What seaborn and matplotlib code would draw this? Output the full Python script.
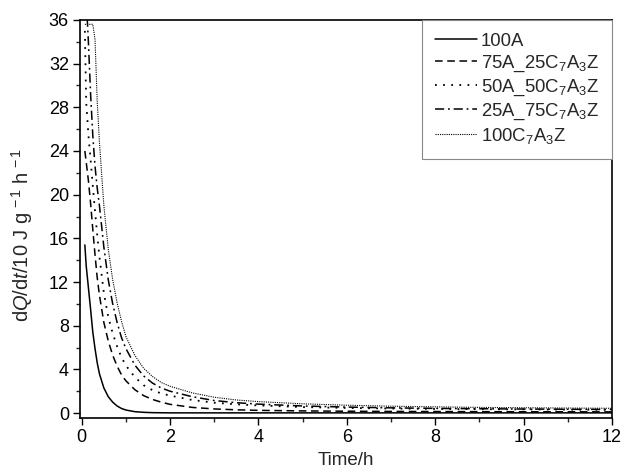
import numpy as np
import pandas as pd
import matplotlib
matplotlib.use("Agg")
import matplotlib.pyplot as plt
import seaborn as sns

# Time axis (h)
time_h = [0.07, 0.1, 0.15, 0.2, 0.25, 0.3, 0.35, 0.4, 0.5, 0.6, 0.7, 0.8, 0.9, 1.0,
          1.2, 1.4, 1.6, 1.8, 2.0, 2.5, 3.0, 3.5, 4.0, 5.0, 6.0, 7.0, 8.0, 9.0,
          10.0, 11.0, 12.0]

s_100A = [15.4, 13.5, 11.5, 9.5, 7.4, 5.9, 4.6, 3.6, 2.3, 1.5, 1.0, 0.65, 0.42, 0.28,
          0.13, 0.07, 0.04, 0.03, 0.02, 0.02, 0.02, 0.02, 0.02, 0.02, 0.02, 0.02, 0.02,
          0.02, 0.02, 0.02, 0.02]
s_75A = [24.0, 23.0, 21.3, 19.2, 16.8, 14.5, 12.4, 10.8, 8.3, 6.6, 5.3, 4.3, 3.5, 2.95,
         2.15, 1.6, 1.25, 1.0, 0.8, 0.52, 0.38, 0.3, 0.25, 0.2, 0.17, 0.15, 0.14,
         0.13, 0.12, 0.12, 0.11]
s_50A = [35.0, 28.5, 25.5, 23.2, 20.8, 18.5, 16.3, 14.3, 11.0, 8.8, 7.3, 6.1, 5.1, 4.35,
         3.3, 2.55, 2.1, 1.8, 1.6, 1.2, 0.95, 0.8, 0.7, 0.55, 0.47, 0.42, 0.38,
         0.36, 0.34, 0.32, 0.3]
s_25A = [40.0, 38.0, 34.0, 29.2, 25.4, 22.6, 20.6, 19.0, 15.2, 12.2, 10.0, 8.3, 6.9, 5.9,
         4.4, 3.4, 2.75, 2.3, 2.0, 1.5, 1.15, 0.95, 0.82, 0.65, 0.55, 0.48, 0.43,
         0.4, 0.37, 0.35, 0.33]
s_100C = [35.6, 35.6, 35.6, 35.6, 35.6, 34.2, 28.5, 24.8, 19.0, 15.0, 12.2, 10.1, 8.4, 7.0,
          5.3, 4.1, 3.35, 2.8, 2.45, 1.85, 1.45, 1.2, 1.05, 0.85, 0.72, 0.63, 0.57,
          0.52, 0.49, 0.46, 0.44]

labels = ["100A", "75A_25C$_7$A$_3$Z", "50A_50C$_7$A$_3$Z",
          "25A_75C$_7$A$_3$Z", "100C$_7$A$_3$Z"]
series = [s_100A, s_75A, s_50A, s_25A, s_100C]

x_ticks = [0, 2, 4, 6, 8, 10, 12]
y_ticks = [0, 4, 8, 12, 16, 20, 24, 28, 32, 36]

sns.set_style("ticks")
plt.rcParams['font.family'] = ['Liberation Sans', 'DejaVu Sans']
plt.rcParams['mathtext.fontset'] = 'custom'
plt.rcParams['mathtext.rm'] = 'Liberation Sans'
plt.rcParams['mathtext.it'] = 'Liberation Sans:italic'
plt.rcParams['mathtext.bf'] = 'Liberation Sans:bold'

fig = plt.figure(figsize=(6.25, 4.75), dpi=100)
ax = fig.add_axes([0.128, 0.12, 0.851, 0.838])

styles = [
    dict(linestyle='-', linewidth=1.1),
    dict(linestyle=(0, (5, 3)), linewidth=1.1),
    dict(linestyle=(0, (1, 3.5)), linewidth=1.3),
    dict(linestyle=(0, (6, 2.5, 1.2, 2.5)), linewidth=1.1),
    dict(linestyle=(0, (1, 1)), linewidth=0.8),
]

for lab, vals, st in zip(labels, series, styles):
    df = pd.DataFrame({"t": time_h, "v": vals})
    sns.lineplot(data=df, x="t", y="v", ax=ax, color="black", label=lab,
                 linestyle=st['linestyle'], linewidth=st['linewidth'])

ax.set_xlim(-0.04, 12.0)
ax.set_ylim(-0.45, 36)
ax.set_xticks(x_ticks)
ax.set_yticks(y_ticks)
ax.set_xticks(np.arange(1, 12, 2), minor=True)
ax.set_yticks(np.arange(2, 36, 4), minor=True)
ax.tick_params(axis='both', which='major', direction='out', length=5, width=1,
               labelsize=13, colors='black', pad=3)
ax.tick_params(axis='both', which='minor', direction='out', length=3, width=1)
for sp in ax.spines.values():
    sp.set_visible(True)
    sp.set_linewidth(1.2)
    sp.set_color('black')

ax.set_xlabel("Time/h", fontsize=13.5, labelpad=4)
ax.set_ylabel(r"d$Q$/d$t$/10 J g$^{\,-1}$ h$^{\,-1}$", fontsize=14.5, labelpad=4)
ax.yaxis.set_label_coords(-0.085, 0.46)

leg = ax.legend(loc='upper right', fontsize=13.3, handlelength=2.3, frameon=True,
                fancybox=False, edgecolor='#888888', framealpha=1,
                borderpad=0.7, labelspacing=0.2, handletextpad=0.2,
                borderaxespad=0)
leg.get_frame().set_linewidth(0.8)

fig.savefig("out.png", dpi=100)
